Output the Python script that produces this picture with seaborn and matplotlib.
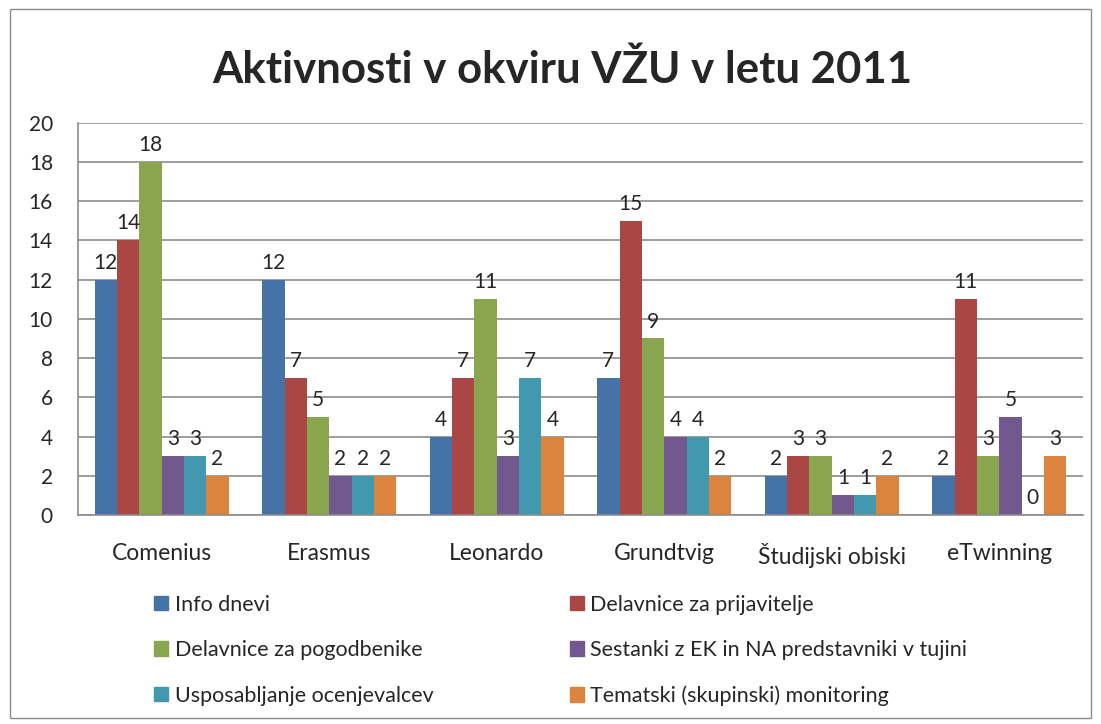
import numpy as np
import pandas as pd
import matplotlib
matplotlib.use("Agg")
import matplotlib.pyplot as plt
import seaborn as sns
from matplotlib.patches import Rectangle

categories = ["Comenius", "Erasmus", "Leonardo", "Grundtvig", "Študijski obiski", "eTwinning"]
series_names = [
    "Info dnevi",
    "Delavnice za prijavitelje",
    "Delavnice za pogodbenike",
    "Sestanki z EK in NA predstavniki v tujini",
    "Usposabljanje ocenjevalcev",
    "Tematski (skupinski) monitoring",
]
info_dnevi = [12, 12, 4, 7, 2, 2]
delavnice_prijavitelji = [14, 7, 7, 15, 3, 11]
delavnice_pogodbeniki = [18, 5, 11, 9, 3, 3]
sestanki = [3, 2, 3, 4, 1, 5]
usposabljanje = [3, 2, 7, 4, 1, 0]
monitoring = [2, 2, 4, 2, 2, 3]
colors = ["#4572A7", "#AA4643", "#89A54E", "#71588F", "#4198AF", "#DB843D"]

all_values = [info_dnevi, delavnice_prijavitelji, delavnice_pogodbeniki,
              sestanki, usposabljanje, monitoring]
rows = []
for name, vals in zip(series_names, all_values):
    for cat, v in zip(categories, vals):
        rows.append({"Program": cat, "Aktivnost": name, "Vrednost": v})
df = pd.DataFrame(rows)

sns.set_style("white")
plt.rcParams["font.family"] = ["Lato", "DejaVu Sans"]

fig = plt.figure(figsize=(11.01, 7.24), dpi=100)
ax = fig.add_axes([0.0708, 0.2887, 0.9128, 0.5418])

sns.barplot(data=df, x="Program", y="Vrednost", hue="Aktivnost",
            hue_order=series_names, order=categories, palette=colors,
            width=0.8, saturation=1, linewidth=0, ax=ax, legend=False)

for cont in ax.containers:
    ax.bar_label(cont, fmt="%d", fontsize=15, padding=5)

ax.set_ylim(0, 20)
ax.set_yticks(np.arange(0, 21, 2))
ax.set_xlabel("")
ax.set_ylabel("")
ax.yaxis.grid(True, color="#8c8c8c", linewidth=1.2)
ax.set_axisbelow(True)
ax.tick_params(axis="y", labelsize=15, length=0, pad=18)
ax.tick_params(axis="x", labelsize=16.5, length=0, pad=20)
for s in ["top", "right"]:
    ax.spines[s].set_visible(False)
for s in ["left", "bottom"]:
    ax.spines[s].set_color("#8c8c8c")
    ax.spines[s].set_linewidth(1.2)

fig.text(0.511, 0.903, "Aktivnosti v okviru VŽU v letu 2011", ha="center",
         va="center", fontsize=31.5, fontweight="bold")

handles = [Rectangle((0, 0), 1, 1, color=c) for c in colors]
legend_kw = dict(loc="upper left", frameon=False, fontsize=15.5,
                 handlelength=0.65, handleheight=0.65, handletextpad=0.3,
                 labelspacing=1.18, borderpad=0, borderaxespad=0)
fig.legend(handles[0::2], series_names[0::2],
           bbox_to_anchor=(0.140, 0.1785), **legend_kw)
fig.legend(handles[1::2], series_names[1::2],
           bbox_to_anchor=(0.5177, 0.1785), **legend_kw)

fig.add_artist(Rectangle((0.009, 0.008), 0.982, 0.979, transform=fig.transFigure,
                         fill=False, edgecolor="#8c8c8c", linewidth=1))

fig.savefig("out.png", dpi=100)
